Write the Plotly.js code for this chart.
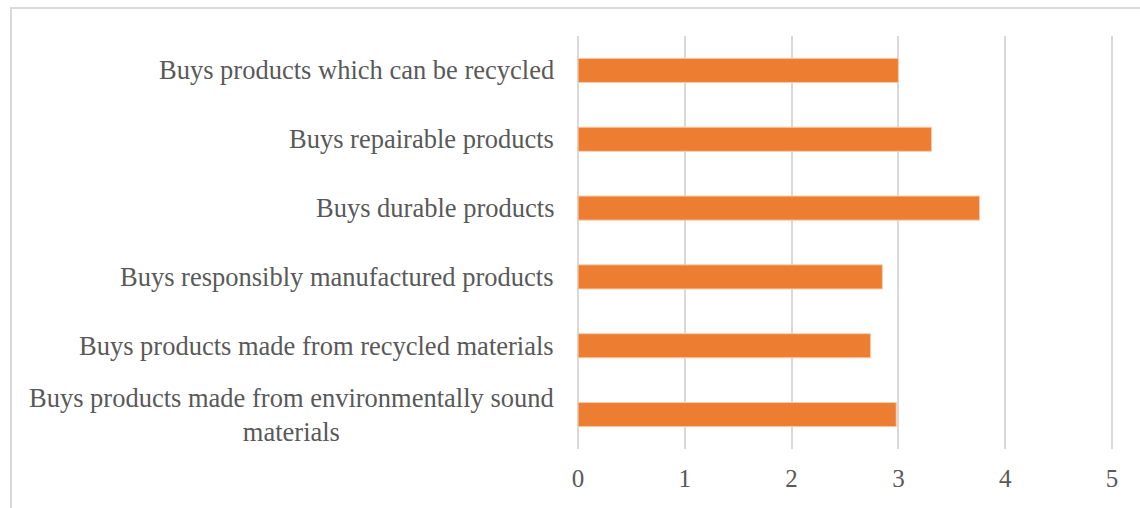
<!DOCTYPE html>
<html>
<head>
<meta charset="utf-8">
<script src="https://cdn.plot.ly/plotly-3.0.1.min.js"></script>
<style>
  html, body { margin: 0; padding: 0; background: #fff; overflow: hidden; }
  #frame { position: absolute; left: 10px; top: 7px; width: 1300px; height: 700px; border: 2px solid #d9d9d9; box-sizing: border-box; }
  #chart { position: absolute; left: 0; top: 0; width: 1140px; height: 508px; }
</style>
</head>
<body>
<div id="frame"></div>
<div id="chart"></div>
<script>
const categories = [
  "Buys products which can be recycled",
  "Buys repairable products",
  "Buys durable products",
  "Buys responsibly manufactured products",
  "Buys products made from recycled materials",
  "Buys products made from environmentally sound<br>materials"
];
const values = [3.0, 3.31, 3.76, 2.85, 2.74, 2.98];
const xTicks = [0, 1, 2, 3, 4, 5];

const font = "'Liberation Serif', 'Times New Roman', serif";

const trace = {
  type: 'bar',
  orientation: 'h',
  y: categories,
  x: values,
  marker: { color: '#ED7D31', line: { color: '#F8CBAD', width: 1 } },
  hoverinfo: 'x+y'
};

const annotations = categories.map(c => ({
  xref: 'paper', yref: 'y', x: 0, y: c,
  xanchor: 'right', yanchor: 'middle', xshift: -21,
  text: c, showarrow: false, align: 'center',
  font: { family: font, size: 26.5, color: '#595959' }
}));

const layout = {
  width: 1140, height: 508,
  margin: { l: 577, r: 27, t: 36, b: 59, pad: 0 },
  paper_bgcolor: 'rgba(0,0,0,0)',
  plot_bgcolor: 'rgba(0,0,0,0)',
  showlegend: false,
  bargap: 0.65,
  xaxis: {
    range: [-0.01, 5.01],
    tickvals: xTicks,
    ticktext: xTicks.map(String),
    showgrid: true, gridcolor: '#d9d9d9', gridwidth: 2,
    zeroline: false, showline: false, ticks: '',
    tickfont: { family: font, size: 25, color: '#595959' },
    ticklabelstandoff: 12
  },
  yaxis: {
    type: 'category',
    autorange: 'reversed',
    showticklabels: false,
    showgrid: false, zeroline: false, showline: false, ticks: ''
  },
  annotations: annotations
};

Plotly.newPlot('chart', [trace], layout, { displayModeBar: false, staticPlot: true });
</script>
</body>
</html>
